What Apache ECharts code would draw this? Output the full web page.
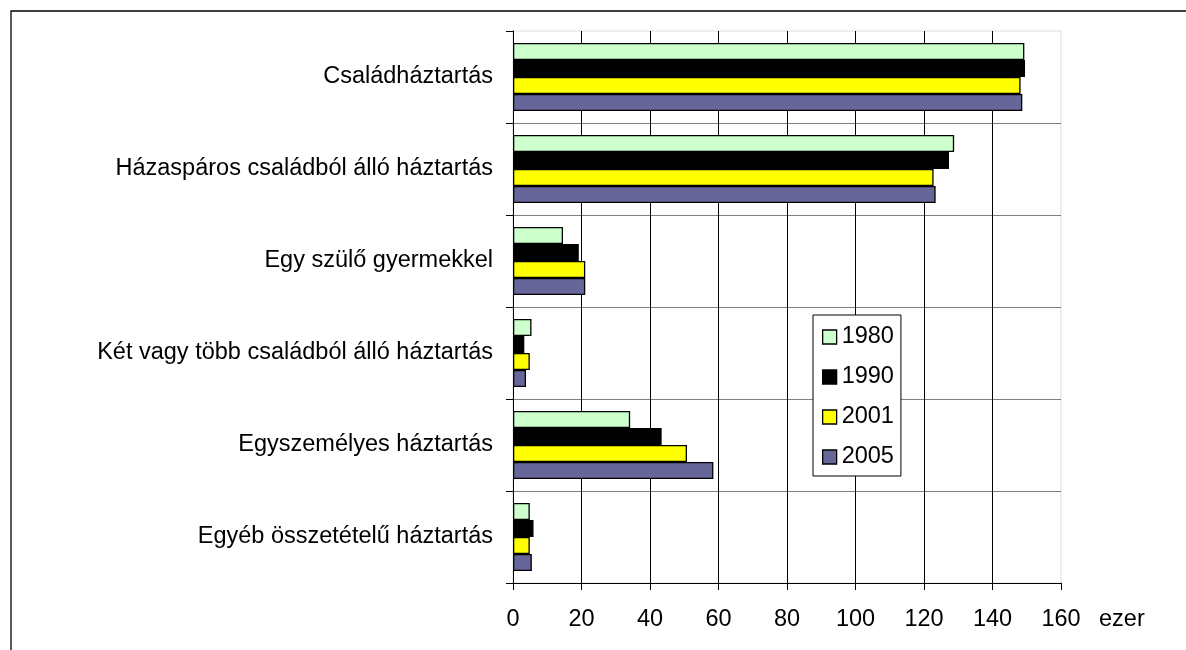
<!DOCTYPE html>
<html>
<head>
<meta charset="utf-8">
<script src="https://cdn.jsdelivr.net/npm/echarts@6/dist/echarts.min.js"></script>
<style>
  html, body { margin: 0; padding: 0; background: #fff; }
  #chart { width: 1186px; height: 650px; }
</style>
</head>
<body>
<div id="chart"></div>
<script>
// kategóriák felülről lefelé
var categories = [
  "Családháztartás",
  "Házaspáros családból álló háztartás",
  "Egy szülő gyermekkel",
  "Két vagy több családból álló háztartás",
  "Egyszemélyes háztartás",
  "Egyéb összetételű háztartás"
];
var years = ["1980", "1990", "2001", "2005"];
var v1980 = [149.3, 128.8, 14.6, 5.4, 34.2, 4.9];
var v1990 = [149.5, 127.3, 19.2, 3.3, 43.4, 6.0];
var v2001 = [148.2, 122.8, 21.1, 4.9, 50.8, 4.9];
var v2005 = [148.7, 123.4, 21.1, 3.8, 58.5, 5.5];
var xTicks = [0, 20, 40, 60, 80, 100, 120, 140, 160];

var colors = ["#ccffcc", "#000000", "#ffff00", "#666699"];
var values = [v1980, v1990, v2001, v2005];
var font = "'Liberation Sans', Arial, sans-serif";

var chart = echarts.init(document.getElementById("chart"));

var series = years.map(function (y, i) {
  return {
    name: y,
    type: "bar",
    barWidth: 17,
    barGap: "0%",
    data: values[i],
    itemStyle: { color: colors[i], borderColor: "#000", borderWidth: 1.3 },
    emphasis: { disabled: true }
  };
});

var option = {
  animation: false,
  backgroundColor: "#fff",
  textStyle: { fontFamily: font },
  grid: {
    left: 513,
    right: 125,
    top: 31,
    bottom: 67,
    show: true,
    borderColor: "#dddddd",
    borderWidth: 1,
    outerBoundsMode: "none"
  },
  legend: {
    orient: "vertical",
    left: 813,
    top: 315,
    padding: [10, 7, 7, 9],
    itemGap: 16,
    itemWidth: 14,
    itemHeight: 14,
    icon: "rect",
    backgroundColor: "#fff",
    borderColor: "#000",
    borderWidth: 1,
    borderRadius: 0,
    textStyle: { fontSize: 23.5, color: "#000", fontFamily: font },
    itemStyle: { borderColor: "#000", borderWidth: 1.3 },
    data: years
  },
  xAxis: {
    type: "value",
    min: xTicks[0],
    max: xTicks[xTicks.length - 1],
    interval: xTicks[1] - xTicks[0],
    axisLine: { show: true, lineStyle: { color: "#000", width: 1 } },
    axisTick: { show: true, length: 7, lineStyle: { color: "#000" } },
    axisLabel: { margin: 25, fontSize: 23.5, color: "#000", fontFamily: font },
    splitLine: { show: true, showMinLine: false, showMaxLine: false, lineStyle: { color: "#000", width: 1 } }
  },
  yAxis: {
    type: "category",
    inverse: true,
    data: categories,
    axisLine: { show: true, lineStyle: { color: "#000", width: 1 } },
    axisTick: { show: true, length: 7, lineStyle: { color: "#000" } },
    axisLabel: { margin: 20, fontSize: 23.5, color: "#000", fontFamily: font },
    splitLine: { show: true, showMinLine: false, lineStyle: { color: "#808080", width: 1 } }
  },
  graphic: [
    {
      type: "rect",
      silent: true,
      z: 100,
      shape: { x: 11, y: 11, width: 1300, height: 800 },
      style: { fill: null, stroke: "#000", lineWidth: 1.3 }
    },
    {
      type: "text",
      left: 1099,
      top: 608,
      style: { text: "ezer", font: "23.5px " + font, fill: "#000" }
    }
  ],
  series: series
};

chart.setOption(option);
</script>
</body>
</html>
